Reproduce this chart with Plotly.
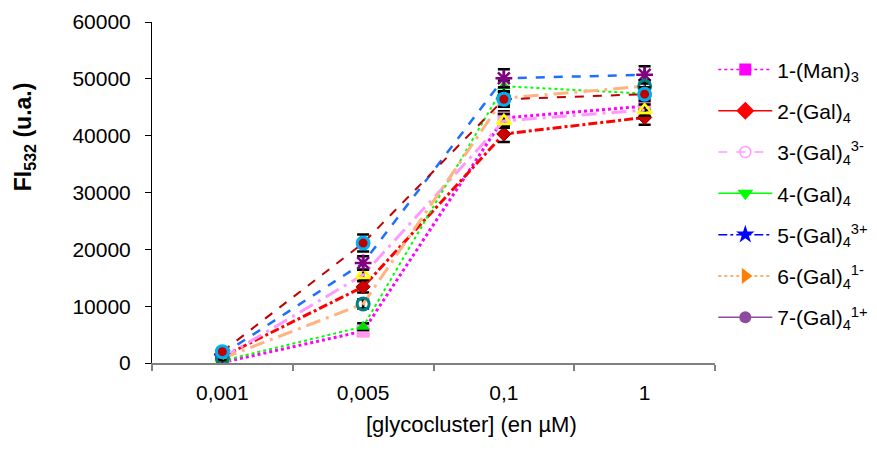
import plotly.graph_objects as go

# concentrations (category axis)
conc = ["0,001", "0,005", "0,1", "1"]

# FI532 values, one list per series
s1 = [100, 5600, 43100, 45200]
s2 = [1100, 13400, 40300, 43200]
s3 = [900, 15500, 42600, 44500]
s4 = [400, 6400, 48700, 47400]
s5 = [1500, 17600, 50100, 50700]
s6 = [800, 10400, 46600, 48700]
s7 = [2000, 21100, 46400, 47300]

# error bars
e1 = [300, 600, 1200, 1000]
e2 = [400, 1000, 1400, 1300]
e3 = [300, 900, 1200, 1000]
e4 = [200, 600, 1000, 800]
e5 = [500, 1200, 1600, 1500]
e6 = [300, 800, 1200, 1000]
e7 = [500, 1500, 1300, 1200]

labels = ["1-(Man)<sub>3</sub>", "2-(Gal)<sub>4</sub>", "3-(Gal)<sub>4</sub><sup>3-</sup>",
          "4-(Gal)<sub>4</sub>", "5-(Gal)<sub>4</sub><sup>3+</sup>",
          "6-(Gal)<sub>4</sub><sup>1-</sup>", "7-(Gal)<sub>4</sub><sup>1+</sup>"]

FONT = "Liberation Sans, Arial, sans-serif"

fig = go.Figure()

# plotted series (styles as drawn in the chart)
plot_styles = [
    (s1, e1, dict(color="#FF00FF", width=3, dash="dot"), dict(symbol="square", size=13, color="#FF99EE")),
    (s2, e2, dict(color="#FF0000", width=3, dash="dashdot"), dict(symbol="diamond", size=11, color="#CC0000", line=dict(color="#990000", width=1))),
    (s3, e3, dict(color="#FF99FF", width=3, dash="longdashdot"), dict(symbol="triangle-up-open", size=12, color="#FFFF00", line=dict(color="#FFFF00", width=2.5))),
    (s4, e4, dict(color="#00FF00", width=2, dash="dot"), dict(symbol="triangle-up", size=12, color="#00DD00")),
    (s5, e5, dict(color="#1F6FFF", width=2.5, dash="dash"), dict(symbol="asterisk-open", size=14, color="#800080", line=dict(color="#800080", width=2.5))),
    (s6, e6, dict(color="#FFB380", width=3, dash="longdashdot"), dict(symbol="circle-open", size=12, color="#008080", line=dict(color="#008080", width=3))),
    (s7, e7, dict(color="#C00000", width=2, dash="dash"), dict(symbol="circle", size=12, color="#C00000", line=dict(color="#00B0F0", width=3))),
]

for vals, err, ln, mk in plot_styles:
    fig.add_trace(go.Scatter(
        x=conc, y=vals, mode="lines+markers", line=ln, marker=mk, showlegend=False,
        error_y=dict(type="data", array=err, color="black", thickness=2.5, width=6),
    ))

# legend entries (styled as in the chart's legend)
legend_styles = [
    (dict(color="#FF00FF", width=1.5, dash="dot"), dict(symbol="square", size=12, color="#FF00FF")),
    (dict(color="#FF0000", width=1.5), dict(symbol="diamond", size=14, color="#FF0000")),
    (dict(color="#FF99FF", width=1.5, dash="dash"), dict(symbol="circle-open", size=11, color="#FF99FF", line=dict(width=1.5))),
    (dict(color="#00FF00", width=1.5), dict(symbol="triangle-down", size=14, color="#00FF00")),
    (dict(color="#0000FF", width=1.5, dash="dashdot"), dict(symbol="star", size=14, color="#0000FF")),
    (dict(color="#FF9933", width=1.5, dash="dot"), dict(symbol="triangle-right", size=14, color="#FF8000")),
    (dict(color="#8E4A9E", width=1.5), dict(symbol="circle", size=12, color="#8E4A9E")),
]

for lab, (ln, mk) in zip(labels, legend_styles):
    fig.add_trace(go.Scatter(
        x=[None], y=[None], mode="lines+markers", name=lab, line=ln, marker=mk,
        legendgroup=lab,
    ))

# page body has an 8px margin, so margins are shifted to compensate
fig.update_layout(
    width=877, height=453,
    margin=dict(l=144, r=165, t=14, b=98),
    paper_bgcolor="white", plot_bgcolor="white",
    font=dict(family=FONT, size=21, color="black"),
    legend=dict(x=0.997, xanchor="left", y=0.92, yanchor="top", itemwidth=54,
                tracegroupgap=11, font=dict(size=21), bgcolor="rgba(0,0,0,0)"),
    xaxis=dict(
        type="category", range=[-0.5, 3.5], tickson="boundaries", automargin=False,
        showline=True, linecolor="#808080", linewidth=2,
        ticks="outside", tickcolor="#808080", ticklen=6, tickwidth=2,
        showgrid=False, zeroline=False, ticklabelstandoff=10,
    ),
    yaxis=dict(
        range=[0, 60000], dtick=10000, tickformat="d", automargin=False,
        showline=True, linecolor="black", linewidth=1,
        ticks="outside", tickcolor="black", ticklen=6,
        showgrid=False, zeroline=False, ticklabelstandoff=10,
    ),
    annotations=[
        dict(text="<b>FI<sub>532</sub> (u.a.)</b>", textangle=-90, font=dict(size=23),
             xref="paper", yref="paper", x=-0.225, y=0.663,
             xanchor="center", yanchor="middle", showarrow=False),
        dict(text="[glycocluster] (en µM)", font=dict(size=22),
             xref="paper", yref="paper", x=0.568, y=-0.179,
             xanchor="center", yanchor="middle", showarrow=False),
    ],
)

fig.write_html("out.html")
